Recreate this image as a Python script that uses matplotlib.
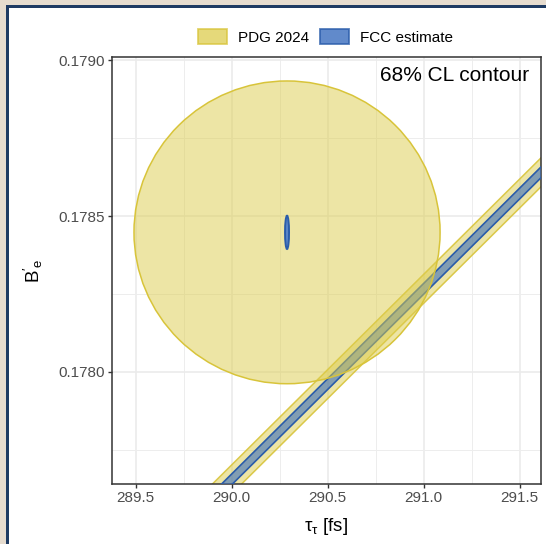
import numpy as np
import matplotlib
matplotlib.use("Agg")
import matplotlib.pyplot as plt
from matplotlib.patches import Ellipse, Rectangle, Patch

plt.rcParams['font.family'] = ['Liberation Sans', 'DejaVu Sans']
plt.rcParams['mathtext.fontset'] = 'custom'
plt.rcParams['mathtext.rm'] = 'Liberation Sans'
plt.rcParams['mathtext.it'] = 'Liberation Sans:italic'

# values
pdg_centre = (290.289, 0.178448)
pdg_radius = (0.797, 0.000486)        # half widths of the PDG 68% contour
fcc_radius = (0.0104, 0.0000535)      # half widths of the FCC contour

band_tau = [289.3, 291.8]             # centre line of the diagonal band
band_b = [0.177226, 0.178756]
pdg_band_half = 0.0000465
fcc_band_half = 0.0000173

xticks = [289.5, 290.0, 290.5, 291.0, 291.5]
xminor = [289.75, 290.25, 290.75, 291.25]
yticks = [0.1780, 0.1785, 0.1790]
yminor = [0.17775, 0.17825, 0.17875]
xlim = (289.376, 291.61)
ylim = (0.177639, 0.179012)

pdg_fill = '#DDCD4D'
pdg_edge = '#D8C43A'
fcc_fill = '#3A6DBE'
fcc_edge = '#2A5CAA'

fig = plt.figure(figsize=(5.46, 5.44), dpi=100, facecolor='#E6DCCF')
# navy frame and white card
fig.patches.append(Rectangle((6/546, 0), 1, 1 - 5/544, transform=fig.transFigure,
                             facecolor='#1E3B63', edgecolor='none', zorder=-2))
fig.patches.append(Rectangle((9/546, 0), 1, 1 - 8/544, transform=fig.transFigure,
                             facecolor='white', edgecolor='none', zorder=-1))

ax = fig.add_axes([0.2046, 0.1097, 0.7857, 0.7861])
ax.set_facecolor('white')

tau = np.array(band_tau)
b = np.array(band_b)
ax.fill_between(tau, b - pdg_band_half, b + pdg_band_half, facecolor=pdg_fill,
                alpha=0.5, edgecolor='none', zorder=2)
ax.plot(tau, b - pdg_band_half, color=pdg_edge, lw=1.1, alpha=0.9, zorder=2)
ax.plot(tau, b + pdg_band_half, color=pdg_edge, lw=1.1, alpha=0.9, zorder=2)
ax.fill_between(tau, b - fcc_band_half, b + fcc_band_half, facecolor=fcc_fill,
                alpha=0.6, edgecolor='none', zorder=3)
ax.plot(tau, b - fcc_band_half, color=fcc_edge, lw=1.2, zorder=3)
ax.plot(tau, b + fcc_band_half, color=fcc_edge, lw=1.2, zorder=3)

ax.add_patch(Ellipse(pdg_centre, 2*pdg_radius[0], 2*pdg_radius[1],
                     facecolor=pdg_fill, alpha=0.5, edgecolor='none', zorder=4))
ax.add_patch(Ellipse(pdg_centre, 2*pdg_radius[0], 2*pdg_radius[1],
                     facecolor='none', edgecolor=pdg_edge, lw=1.1, zorder=4))
ax.add_patch(Ellipse(pdg_centre, 2*fcc_radius[0], 2*fcc_radius[1],
                     facecolor='#5A86C8', edgecolor=fcc_edge, lw=1.4, zorder=5))

ax.set_xlim(xlim)
ax.set_ylim(ylim)
ax.set_xticks(xticks)
ax.set_xticks(xminor, minor=True)
ax.set_yticks(yticks)
ax.set_yticks(yminor, minor=True)
ax.set_xticklabels(['%.1f' % t for t in xticks])
ax.set_yticklabels(['%.4f' % t for t in yticks])
ax.grid(which='major', color='#EBEBEB', lw=1.2)
ax.grid(which='minor', color='#EDEDED', lw=0.7)
ax.set_axisbelow(True)
for s in ax.spines.values():
    s.set_color('#333333')
    s.set_linewidth(1.1)
ax.tick_params(which='major', length=3, width=1, color='#333333',
               labelcolor='#4D4D4D', labelsize=11, pad=2)
ax.tick_params(which='minor', length=0)

ax.set_xlabel(r'$\mathregular{\tau_\tau}$ [fs]', fontsize=13.5)
ax.xaxis.set_label_coords(0.5, -0.075)
ax.set_ylabel(r"$\mathregular{B'_e}$", fontsize=13.5)
ax.yaxis.set_label_coords(-0.155, 0.5)

ax.text(0.9727, 0.955, '68% CL contour', transform=ax.transAxes, ha='right',
        va='center', fontsize=15, color='black')

handles = [Patch(facecolor=pdg_fill, alpha=0.75, edgecolor=pdg_edge, lw=1.3),
           Patch(facecolor=fcc_fill, alpha=0.8, edgecolor=fcc_edge, lw=1.3)]
fig.legend(handles, ['PDG 2024', 'FCC estimate'], loc='center',
           bbox_to_anchor=(0.596, 0.932), ncol=2, frameon=False, fontsize=11,
           handlelength=1.9, handleheight=1.1, handletextpad=0.7, columnspacing=0.7)

fig.savefig('out.png', dpi=100, facecolor=fig.get_facecolor())
